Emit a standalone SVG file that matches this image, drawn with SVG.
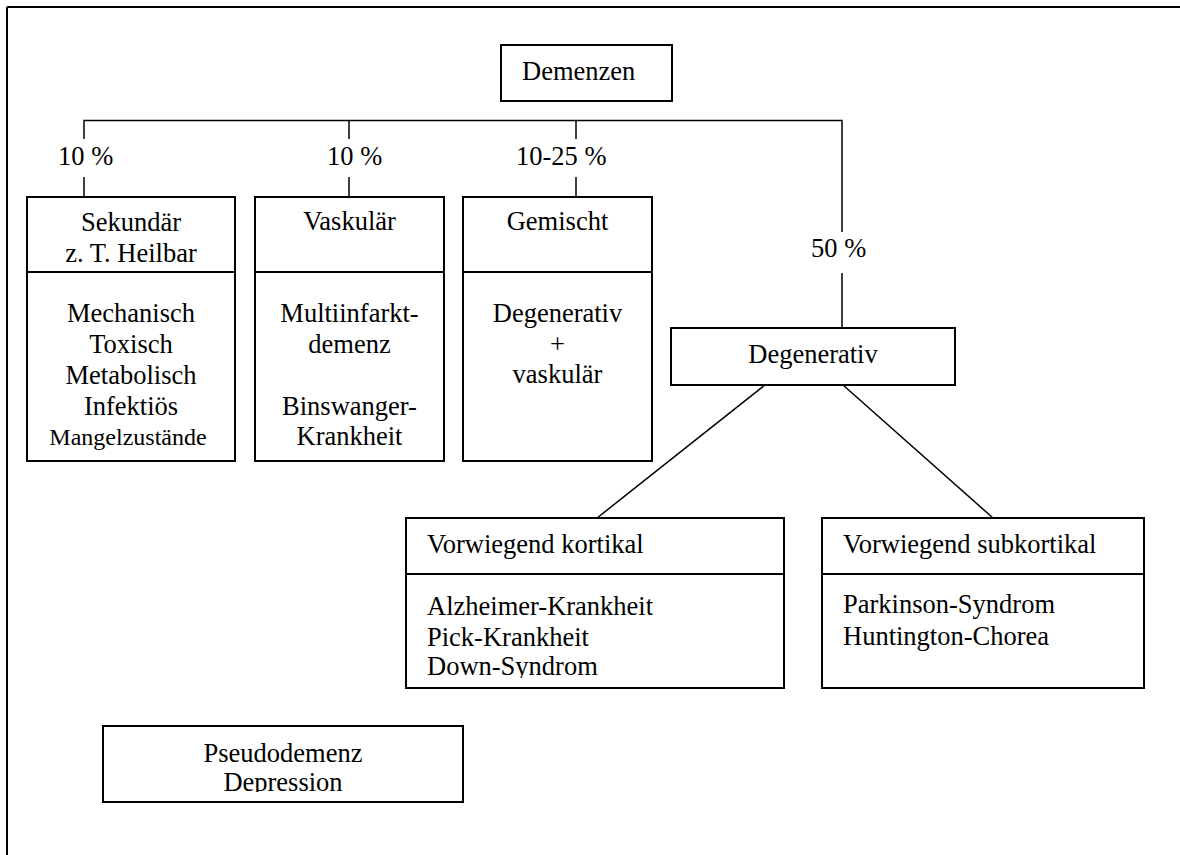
<svg xmlns="http://www.w3.org/2000/svg" width="1180" height="855" viewBox="0 0 1180 855">
<style>
.box{fill:#fff;stroke:#000;stroke-width:2}
.div{stroke:#000;stroke-width:2}
.ln{stroke:#000;stroke-width:1.5;fill:none}
text{font-family:"Liberation Serif","Times New Roman",serif;font-size:26.5px;fill:#000}
.c{text-anchor:middle}
.sm{font-size:24px}
</style>
<defs>
<clipPath id="clipK"><rect x="406" y="574" width="378" height="104"/></clipPath>
<clipPath id="clipP"><rect x="103" y="726" width="360" height="66"/></clipPath>
</defs>
<rect width="1180" height="855" fill="#fff"/>
<g id="frame">
<line class="div" x1="7" y1="7" x2="1180" y2="7"/>
<line class="div" x1="7" y1="7" x2="7" y2="855"/>
</g>
<g id="connectors">
<polyline class="ln" points="84,139 84,120.5 842,120.5 842,232"/>
<line class="ln" x1="84" y1="177" x2="84" y2="197"/>
<line class="ln" x1="349" y1="120.5" x2="349" y2="139"/>
<line class="ln" x1="349" y1="177" x2="349" y2="197"/>
<line class="ln" x1="576" y1="120.5" x2="576" y2="139"/>
<line class="ln" x1="576" y1="177" x2="576" y2="197"/>
<line class="ln" x1="842" y1="273" x2="842" y2="328"/>
<line class="ln" x1="765" y1="385" x2="597" y2="518"/>
<line class="ln" x1="843" y1="385" x2="993" y2="518"/>
<text x="58" y="165">10 %</text>
<text x="327" y="165">10 %</text>
<text x="516" y="165">10-25 %</text>
<text x="811" y="257">50 %</text>
</g>
<g id="demenzen">
<rect class="box" x="501" y="45" width="171" height="56"/>
<text x="522" y="80">Demenzen</text>
</g>
<g id="sekundaer">
<rect class="box" x="27" y="197" width="208" height="264"/>
<line class="div" x1="27" y1="272" x2="235" y2="272"/>
<text class="c" x="131" y="231">Sekundär</text>
<text class="c" x="131" y="262">z. T. Heilbar</text>
<text class="c" x="131" y="322">Mechanisch</text>
<text class="c" x="131" y="353">Toxisch</text>
<text class="c" x="131" y="384">Metabolisch</text>
<text class="c" x="131" y="415">Infektiös</text>
<text class="c sm" x="128" y="445">Mangelzustände</text>
</g>
<g id="vaskulaer">
<rect class="box" x="255" y="197" width="189" height="264"/>
<line class="div" x1="255" y1="272" x2="444" y2="272"/>
<text class="c" x="349.5" y="230">Vaskulär</text>
<text class="c" x="349.5" y="322">Multiinfarkt-</text>
<text class="c" x="349.5" y="353">demenz</text>
<text class="c" x="349.5" y="415">Binswanger-</text>
<text class="c" x="349.5" y="445">Krankheit</text>
</g>
<g id="gemischt">
<rect class="box" x="463" y="197" width="189" height="264"/>
<line class="div" x1="463" y1="272" x2="652" y2="272"/>
<text class="c" x="557.5" y="230">Gemischt</text>
<text class="c" x="557.5" y="322">Degenerativ</text>
<text class="c" x="557.5" y="353">+</text>
<text class="c" x="557.5" y="383">vaskulär</text>
</g>
<g id="degenerativ">
<rect class="box" x="671" y="328" width="284" height="57"/>
<text class="c" x="813" y="363">Degenerativ</text>
</g>
<g id="kortikal">
<rect class="box" x="406" y="518" width="378" height="170"/>
<line class="div" x1="406" y1="574" x2="784" y2="574"/>
<text x="427" y="553">Vorwiegend kortikal</text>
<g clip-path="url(#clipK)">
<text x="427" y="615">Alzheimer-Krankheit</text>
<text x="427" y="646">Pick-Krankheit</text>
<text x="427" y="675">Down-Syndrom</text>
</g>
</g>
<g id="subkortikal">
<rect class="box" x="822" y="518" width="322" height="170"/>
<line class="div" x1="822" y1="574" x2="1144" y2="574"/>
<text x="843" y="553">Vorwiegend subkortikal</text>
<text x="843" y="613">Parkinson-Syndrom</text>
<text x="843" y="645">Huntington-Chorea</text>
</g>
<g id="pseudodemenz">
<rect class="box" x="103" y="726" width="360" height="76"/>
<g clip-path="url(#clipP)">
<text class="c" x="283" y="762">Pseudodemenz</text>
<text class="c" x="283" y="791">Depression</text>
</g>
</g>
</svg>
